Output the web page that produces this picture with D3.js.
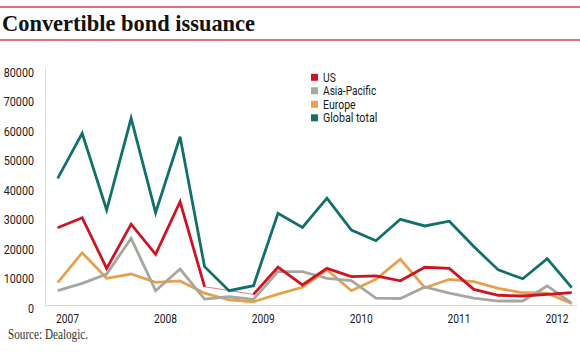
<!DOCTYPE html>
<html><head><meta charset="utf-8">
<script src="https://cdn.jsdelivr.net/npm/d3@7"></script>
<style>
html,body{margin:0;padding:0;background:#fff;}
svg{display:block;}
text{font-family:Roboto,"Liberation Sans",sans-serif;fill:#1a1a1a;}
</style></head>
<body>
<script>
const quarters = ["2007Q1","2007Q2","2007Q3","2007Q4","2008Q1","2008Q2","2008Q3","2008Q4",
  "2009Q1","2009Q2","2009Q3","2009Q4","2010Q1","2010Q2","2010Q3","2010Q4",
  "2011Q1","2011Q2","2011Q3","2011Q4","2012Q1","2012Q2"];
const us =          [26200,29600,12400,27400,17200,35000,6200,null,3600,12800,6800,12400,9600,9900,8200,12800,12400,5300,3300,3050,3600,4200];
const asiaPacific = [4850,7350,10500,22600,4850,12200,2000,2800,1900,11300,11300,9050,8250,2300,2200,6100,4000,2300,1350,1350,6450,600];
const europe =      [7550,17700,9050,10500,7700,8150,4000,1700,1100,3700,6000,11900,4850,8700,15500,5850,8700,7900,5650,4150,4000,500];
const globalTotal = [42950,58200,32200,63300,31300,57050,13000,4850,6550,31100,26300,36200,25400,21800,29050,26800,28400,19800,11900,8900,15700,5900];
const yearLabels = ["2007","2008","2009","2010","2011","2012"];
const yTicks = [0,10000,20000,30000,40000,50000,60000,70000,80000];
const seriesNames = ["US","Asia-Pacific","Europe","Global total"];
const seriesColors = ["#cc1422","#a6a79e","#e8a04c","#12706b"];

const W = 580, H = 358;
const svg = d3.select("body").append("svg").attr("width", W).attr("height", H);

// Title rules and title
svg.append("rect").attr("x",0).attr("y",6).attr("width",W).attr("height",2).attr("fill","#dc7474");
svg.append("rect").attr("x",0).attr("y",39).attr("width",W).attr("height",2).attr("fill","#dc7474");
svg.append("text").attr("x",2).attr("y",31)
  .style("font-family","'Liberation Serif','Times New Roman',serif")
  .style("font-weight","bold").style("font-size","22.5px").style("fill","#111")
  .attr("textLength",253).attr("lengthAdjust","spacingAndGlyphs")
  .text("Convertible bond issuance");

const x = d3.scaleLinear().domain([0, quarters.length-1]).range([57.7, 571.7]);
const y = d3.scaleLinear().domain([0, 80000]).range([305, 69]);

// axes lines
svg.append("line").attr("x1",45.5).attr("x2",45.5).attr("y1",67).attr("y2",305)
  .attr("stroke","#dedede").attr("stroke-width",1);
svg.append("line").attr("x1",45).attr("x2",577).attr("y1",305.5).attr("y2",305.5)
  .attr("stroke","#d6d6d6").attr("stroke-width",1);

// Y axis labels
const yAxis = d3.axisLeft(y).tickValues(yTicks).tickSize(0).tickPadding(0).tickFormat(d3.format("d"));
const gy = svg.append("g").attr("transform","translate(34,3)").call(yAxis);
gy.select(".domain").remove();
gy.selectAll("text").style("font-size","13px").style("fill","#1a1a1a")
  .attr("textLength", d => String(d).length*6.05).attr("lengthAdjust","spacingAndGlyphs");

// X axis labels
const yearPos = yearLabels.map((d,i) => i*4 + 0.38);
const xAxis = d3.axisBottom(x).tickValues(yearPos).tickSize(0).tickPadding(0)
  .tickFormat((d,i) => yearLabels[i]);
const gx = svg.append("g").attr("transform","translate(0,314)").call(xAxis);
gx.select(".domain").remove();
gx.selectAll("text").style("font-size","13px").style("fill","#1a1a1a")
  .attr("textLength",23).attr("lengthAdjust","spacingAndGlyphs");

// lines
const line = d3.line().defined(d => d != null).x((d,i) => x(i)).y(d => y(d));
const seriesData = [us, asiaPacific, europe, globalTotal];

// thin connector for US missing point
const usPts = us.map((v,i)=>[i,v]).filter(p => p[1] != null);
svg.append("path")
  .attr("d", d3.line().x(p=>x(p[0])).y(p=>y(p[1]))(usPts))
  .attr("fill","none").attr("stroke","#e77a80").attr("stroke-width",1);

const drawOrder = [2,1,0,3];
drawOrder.forEach(k => {
  svg.append("path").datum(seriesData[k]).attr("d", line)
    .attr("fill","none").attr("stroke", seriesColors[k])
    .attr("stroke-width",2.8).attr("stroke-linejoin","miter").attr("stroke-miterlimit",4);
});

// legend
const legendWidths = [12.7, 53.3, 32.7, 54.3];
const lg = svg.append("g");
seriesNames.forEach((n,i) => {
  const cy = 77.3 + i*13.5;
  lg.append("rect").attr("x",311).attr("y",cy-3.5).attr("width",7).attr("height",7).attr("fill",seriesColors[i]);
  lg.append("text").attr("x",323).attr("y",cy+4.5).style("font-size","13px")
    .attr("textLength",legendWidths[i]).attr("lengthAdjust","spacingAndGlyphs").text(n);
});

// source
svg.append("text").attr("x",8).attr("y",339)
  .style("font-family","'Liberation Serif','Times New Roman',serif")
  .style("font-size","14px").style("fill","#333")
  .attr("textLength",80).attr("lengthAdjust","spacingAndGlyphs")
  .text("Source: Dealogic.");
</script>
</body></html>
